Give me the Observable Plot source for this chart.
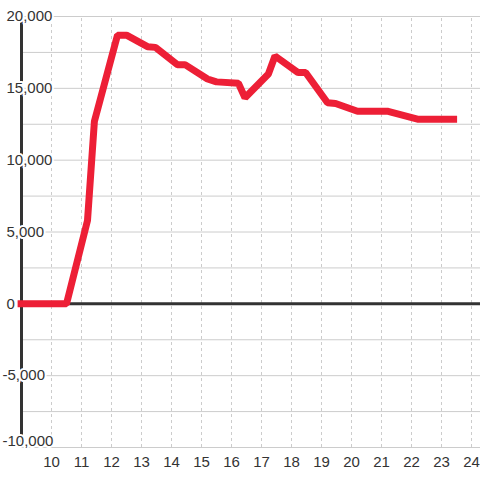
<!DOCTYPE html>
<html>
<head>
<meta charset="utf-8">
<script src="https://cdn.jsdelivr.net/npm/d3@7"></script>
<script src="https://cdn.jsdelivr.net/npm/@observablehq/plot@0.6"></script>
<style>
  html, body { margin: 0; padding: 0; background: #fff; }
  #chart svg { display: block; }
</style>
</head>
<body>
<div id="chart"></div>
<script>
// Data
const xValues = [8.87, 10.5, 11.2, 11.43, 12.2, 12.5, 13.2, 13.47, 14.2, 14.45, 15.2, 15.5, 16.23, 16.45, 17.23, 17.45, 18.22, 18.47, 19.2, 19.47, 20.2, 21.22, 22.2, 23.52];
const yValues = [0, 0, 5800, 12700, 18700, 18700, 17900, 17850, 16650, 16650, 15650, 15450, 15350, 14350, 16000, 17250, 16100, 16100, 14000, 13950, 13400, 13400, 12850, 12850];
const xTicks = [10, 11, 12, 13, 14, 15, 16, 17, 18, 19, 20, 21, 22, 23, 24];
const yTicks = [20000, 15000, 10000, 5000, 0, -5000, -10000];
const yGrid = [20000, 17500, 15000, 12500, 10000, 7500, 5000, 2500, -2500, -5000, -7500, -10000];

const series = xValues.map((x, i) => ({x, y: yValues[i]}));
const fmt = d3.format(",");
const ink = "#333";
const font = "'Liberation Sans', Arial, sans-serif";

const chart = Plot.plot({
  width: 480,
  height: 480,
  marginLeft: 21,
  marginRight: 0,
  marginTop: 16,
  marginBottom: 33,
  style: {fontFamily: font, fontSize: "15px", background: "#fff", color: ink, overflow: "visible"},
  x: {domain: [9, 24.3], axis: null},
  y: {domain: [-10000, 20000], axis: null},
  marks: [
    Plot.ruleY(yGrid, {y: d => d, x1: 9, x2: 24.3, stroke: "#cccccc", strokeWidth: 1, strokeOpacity: 1}),
    Plot.ruleX(xTicks, {x: d => d, y1: -10000, y2: 20000, stroke: "#cccccc", strokeWidth: 1, strokeOpacity: 1, strokeDasharray: "3,3"}),
    Plot.ruleX([9], {x: d => d, y1: -10000, y2: 20000, stroke: ink, strokeWidth: 3, strokeOpacity: 1}),
    Plot.ruleY([0], {y: d => d, x1: 8.97, x2: 24.3, stroke: ink, strokeWidth: 3, strokeOpacity: 1}),
    Plot.line(series, {x: "x", y: "y", stroke: "#ed1f36", strokeWidth: 7, strokeLinejoin: "miter", strokeLinecap: "butt"}),
    // y tick labels
    Plot.text(yTicks.filter(d => d >= 0), {x: () => 9, y: d => d, text: d => fmt(d), textAnchor: "start", dx: -15, fill: ink, fontSize: 15, stroke: "#fff", strokeWidth: 4, lineAnchor: "middle"}),
    Plot.text(yTicks.filter(d => d < 0 && d > -10000), {x: () => 9, y: d => d, text: d => "-" + fmt(-d), textAnchor: "start", dx: -19, fill: ink, fontSize: 15, stroke: "#fff", strokeWidth: 4, lineAnchor: "middle"}),
    Plot.text(yTicks.filter(d => d <= -10000), {x: () => 9, y: d => d, text: d => "-" + fmt(-d), textAnchor: "start", dx: -19, dy: -6, fill: ink, fontSize: 15, stroke: "#fff", strokeWidth: 4, lineAnchor: "middle"}),
    // x tick labels
    Plot.text(xTicks, {x: d => d, y: () => -10000, text: d => String(d), dy: 15, fill: ink, fontSize: 15, lineAnchor: "middle"})
  ]
});
document.getElementById("chart").appendChild(chart);
</script>
</body>
</html>
